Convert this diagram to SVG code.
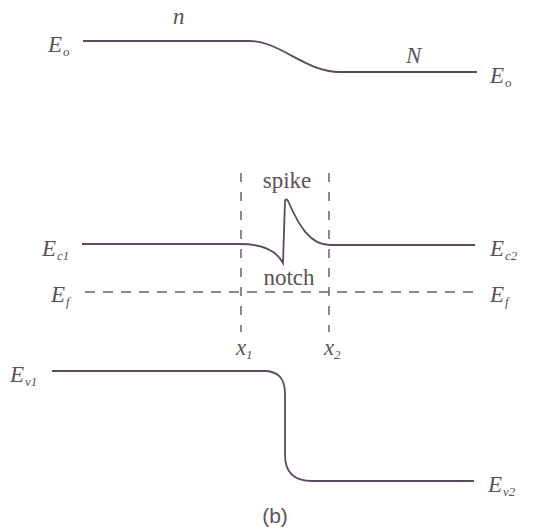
<svg xmlns="http://www.w3.org/2000/svg" width="533" height="530" viewBox="0 0 533 530">
<style>
.band{fill:none;stroke:#5a4c5c;stroke-width:1.8}
.dash{fill:none;stroke:#6a6068;stroke-width:1.6;stroke-dasharray:10 8}
.vd{fill:none;stroke:#6a6068;stroke-width:1.5;stroke-dasharray:9 10}
text{font-family:'Liberation Serif','DejaVu Serif','Times New Roman',serif;fill:#5a5258}
.lbl{font-style:italic;font-size:23px}
.sub{font-style:italic;font-size:13px}
.txt{font-size:23px}
.cap{font-family:'Liberation Sans','DejaVu Sans',sans-serif;font-size:21px}
</style>
<rect width="533" height="530" fill="#ffffff"/>
<g id="connectors">
<path id="vacuum" class="band" d="M83,41 H250 C280,41 305,72 340,72 H477"/>
<path id="conduction" class="band" d="M82,244 H240 C262,244 276,250 283,263 L285,201 Q286,198 288,201 C299,226 310,245 330,245 H475"/>
<path id="fermi" class="dash" d="M85,292 H476"/>
<path id="x1line" class="vd" d="M241,173 V332"/>
<path id="x2line" class="vd" d="M329,173 V332"/>
<path id="valence" class="band" d="M52,371 H264 C279,371 285,379 285,394 V455 C285,472 293,481 312,481 H474"/>
</g>
<g id="labels">
<g id="Eo-left"><text class="lbl" x="48" y="52">E</text><text class="sub" x="63" y="56">o</text></g>
<g id="n-label"><text class="lbl" x="173" y="24">n</text></g>
<g id="N-label"><text class="lbl" x="406" y="63">N</text></g>
<g id="Eo-right"><text class="lbl" x="490" y="83">E</text><text class="sub" x="505" y="87">o</text></g>
<g id="Ec1"><text class="lbl" x="42" y="256">E</text><text class="sub" x="57" y="260">c1</text></g>
<g id="Ec2"><text class="lbl" x="490" y="256">E</text><text class="sub" x="505" y="260">c2</text></g>
<g id="Ef-left"><text class="lbl" x="51" y="302">E</text><text class="sub" x="66" y="306">f</text></g>
<g id="Ef-right"><text class="lbl" x="490" y="302">E</text><text class="sub" x="505" y="306">f</text></g>
<g id="spike"><text class="txt" x="287" y="188" text-anchor="middle">spike</text></g>
<g id="notch"><text class="txt" x="289" y="285" text-anchor="middle">notch</text></g>
<g id="x1"><text class="lbl" x="236" y="355">x</text><text class="sub" x="246" y="359">1</text></g>
<g id="x2"><text class="lbl" x="324" y="355">x</text><text class="sub" x="334" y="359">2</text></g>
<g id="Ev1"><text class="lbl" x="10" y="382">E</text><text class="sub" x="25" y="386">v1</text></g>
<g id="Ev2"><text class="lbl" x="488" y="492">E</text><text class="sub" x="503" y="496">v2</text></g>
<g id="caption"><text class="cap" x="275" y="523" text-anchor="middle">(b)</text></g>
</g>
</svg>
